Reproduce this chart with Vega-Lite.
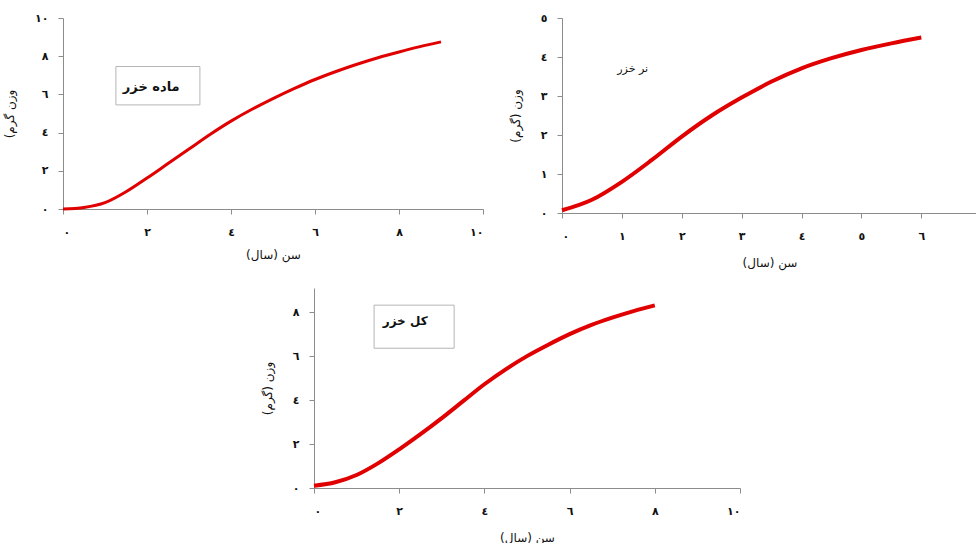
{
  "$schema": "https://vega.github.io/schema/vega-lite/v6.json",
  "padding": {"left": 3, "top": 12, "right": 0, "bottom": 0},
  "background": "white",
  "config": {
    "view": {"stroke": null},
    "axis": {
      "grid": false,
      "domainColor": "#8c8c8c",
      "tickColor": "#8c8c8c",
      "tickSize": 5,
      "labelColor": "#111111",
      "labelFont": "DejaVu Sans",
      "labelFontWeight": "bold",
      "labelFontSize": 11,
      "labelOverlap": false,
      "titleFont": "DejaVu Sans",
      "titleFontWeight": "normal",
      "titleFontSize": 12,
      "titleColor": "#111111",
      "labelExpr": "datum.value == 10 ? '١٠' : ['٠','١','٢','٣','٤','٥','٦','٧','٨','٩'][datum.value]"
    },
    "axisX": {"labelPadding": 12, "titlePadding": 12},
    "axisY": {"labelPadding": 10, "titlePadding": 18}
  },
  "datasets": {
    "female": [
      {"age": 0, "weight": 0},
      {"age": 0.5, "weight": 0.08},
      {"age": 1, "weight": 0.33},
      {"age": 1.5, "weight": 0.9},
      {"age": 2, "weight": 1.62},
      {"age": 2.5, "weight": 2.38},
      {"age": 3, "weight": 3.14},
      {"age": 3.5, "weight": 3.9},
      {"age": 4, "weight": 4.6},
      {"age": 4.5, "weight": 5.22},
      {"age": 5, "weight": 5.78},
      {"age": 5.5, "weight": 6.3},
      {"age": 6, "weight": 6.78},
      {"age": 6.5, "weight": 7.2},
      {"age": 7, "weight": 7.58},
      {"age": 7.5, "weight": 7.92},
      {"age": 8, "weight": 8.22},
      {"age": 8.5, "weight": 8.5},
      {"age": 9, "weight": 8.75}
    ],
    "male": [
      {"age": 0, "weight": 0.07},
      {"age": 0.5, "weight": 0.34},
      {"age": 1, "weight": 0.8},
      {"age": 1.5, "weight": 1.36},
      {"age": 2, "weight": 1.96},
      {"age": 2.5, "weight": 2.5},
      {"age": 3, "weight": 2.96},
      {"age": 3.5, "weight": 3.37},
      {"age": 4, "weight": 3.71},
      {"age": 4.5, "weight": 3.97},
      {"age": 5, "weight": 4.18},
      {"age": 5.5, "weight": 4.35},
      {"age": 6, "weight": 4.5}
    ],
    "total": [
      {"age": 0, "weight": 0.1},
      {"age": 0.5, "weight": 0.26},
      {"age": 1, "weight": 0.59},
      {"age": 1.5, "weight": 1.12},
      {"age": 2, "weight": 1.76},
      {"age": 2.5, "weight": 2.45},
      {"age": 3, "weight": 3.18},
      {"age": 3.5, "weight": 3.95},
      {"age": 4, "weight": 4.72},
      {"age": 4.5, "weight": 5.4},
      {"age": 5, "weight": 6.0},
      {"age": 5.5, "weight": 6.52},
      {"age": 6, "weight": 7.0},
      {"age": 6.5, "weight": 7.41},
      {"age": 7, "weight": 7.75},
      {"age": 7.5, "weight": 8.05},
      {"age": 8, "weight": 8.31}
    ]
  },
  "vconcat": [
    {
      "hconcat": [
        {
          "width": 420,
          "height": 191,
          "layer": [
            {
              "data": {"name": "female"},
              "mark": {"type": "line", "color": "#e00000", "strokeWidth": 3, "interpolate": "monotone"},
              "encoding": {
                "x": {
                  "field": "age", "type": "quantitative",
                  "scale": {"domain": [0, 10], "nice": false},
                  "axis": {"values": [0, 2, 4, 6, 8, 10], "tickCount": 6, "title": "سن (سال)‏"}
                },
                "y": {
                  "field": "weight", "type": "quantitative",
                  "scale": {"domain": [0, 10], "nice": false},
                  "axis": {"values": [0, 2, 4, 6, 8, 10], "tickCount": 6, "title": "‏وزن گرم)‏"}
                }
              }
            },
            {
              "data": {"values": [{"x1": 1.26, "x2": 3.26, "y1": 5.45, "y2": 7.46}]},
              "mark": {"type": "rect", "fill": "white", "stroke": "#b5b5b5", "strokeWidth": 1},
              "encoding": {
                "x": {"field": "x1", "type": "quantitative"},
                "x2": {"field": "x2"},
                "y": {"field": "y1", "type": "quantitative"},
                "y2": {"field": "y2"}
              }
            },
            {
              "data": {"values": [{"x": 2.1, "y": 6.4, "label": "ماده خزر"}]},
              "mark": {"type": "text", "font": "DejaVu Sans", "fontWeight": "bold", "fontSize": 13, "color": "#111111"},
              "encoding": {
                "x": {"field": "x", "type": "quantitative"},
                "y": {"field": "y", "type": "quantitative"},
                "text": {"field": "label"}
              }
            }
          ]
        },
        {
          "width": 415,
          "height": 195,
          "layer": [
            {
              "data": {"name": "male"},
              "mark": {"type": "line", "color": "#e00000", "strokeWidth": 4, "interpolate": "monotone"},
              "encoding": {
                "x": {
                  "field": "age", "type": "quantitative",
                  "scale": {"domain": [0, 6.93], "nice": false},
                  "axis": {"values": [0, 1, 2, 3, 4, 5, 6], "tickCount": 7, "title": "سن (سال)‏", "titlePadding": 16}
                },
                "y": {
                  "field": "weight", "type": "quantitative",
                  "scale": {"domain": [0, 5], "nice": false},
                  "axis": {"values": [0, 1, 2, 3, 4, 5], "tickCount": 6, "title": "‏وزن (گرم)‏"}
                }
              }
            },
            {
              "data": {"values": [{"x": 1.18, "y": 3.7, "label": "نر خزر"}]},
              "mark": {"type": "text", "font": "DejaVu Sans", "fontSize": 11, "color": "#111111"},
              "encoding": {
                "x": {"field": "x", "type": "quantitative"},
                "y": {"field": "y", "type": "quantitative"},
                "text": {"field": "label"}
              }
            }
          ]
        }
      ],
      "spacing": 25
    },
    {
      "hconcat": [
        {
          "width": 198,
          "height": 10,
          "data": {"values": []},
          "mark": "point"
        },
        {
          "width": 426,
          "height": 200,
          "layer": [
            {
              "data": {"name": "total"},
              "mark": {"type": "line", "color": "#e00000", "strokeWidth": 4, "interpolate": "monotone"},
              "encoding": {
                "x": {
                  "field": "age", "type": "quantitative",
                  "scale": {"domain": [0, 10], "nice": false},
                  "axis": {"values": [0, 2, 4, 6, 8, 10], "tickCount": 6, "title": "سن (سال)‏", "titlePadding": 16}
                },
                "y": {
                  "field": "weight", "type": "quantitative",
                  "scale": {"domain": [0, 9.1], "nice": false},
                  "axis": {"values": [0, 2, 4, 6, 8], "tickCount": 5, "title": "‏وزن (گرم)‏"}
                }
              }
            },
            {
              "data": {"values": [{"x1": 1.41, "x2": 3.29, "y1": 6.36, "y2": 8.32}]},
              "mark": {"type": "rect", "fill": "white", "stroke": "#b5b5b5", "strokeWidth": 1},
              "encoding": {
                "x": {"field": "x1", "type": "quantitative"},
                "x2": {"field": "x2"},
                "y": {"field": "y1", "type": "quantitative"},
                "y2": {"field": "y2"}
              }
            },
            {
              "data": {"values": [{"x": 2.14, "y": 7.6, "label": "کل خزر"}]},
              "mark": {"type": "text", "font": "DejaVu Sans", "fontWeight": "bold", "fontSize": 12, "color": "#111111"},
              "encoding": {
                "x": {"field": "x", "type": "quantitative"},
                "y": {"field": "y", "type": "quantitative"},
                "text": {"field": "label"}
              }
            }
          ]
        }
      ],
      "spacing": 0
    }
  ],
  "spacing": 20
}
